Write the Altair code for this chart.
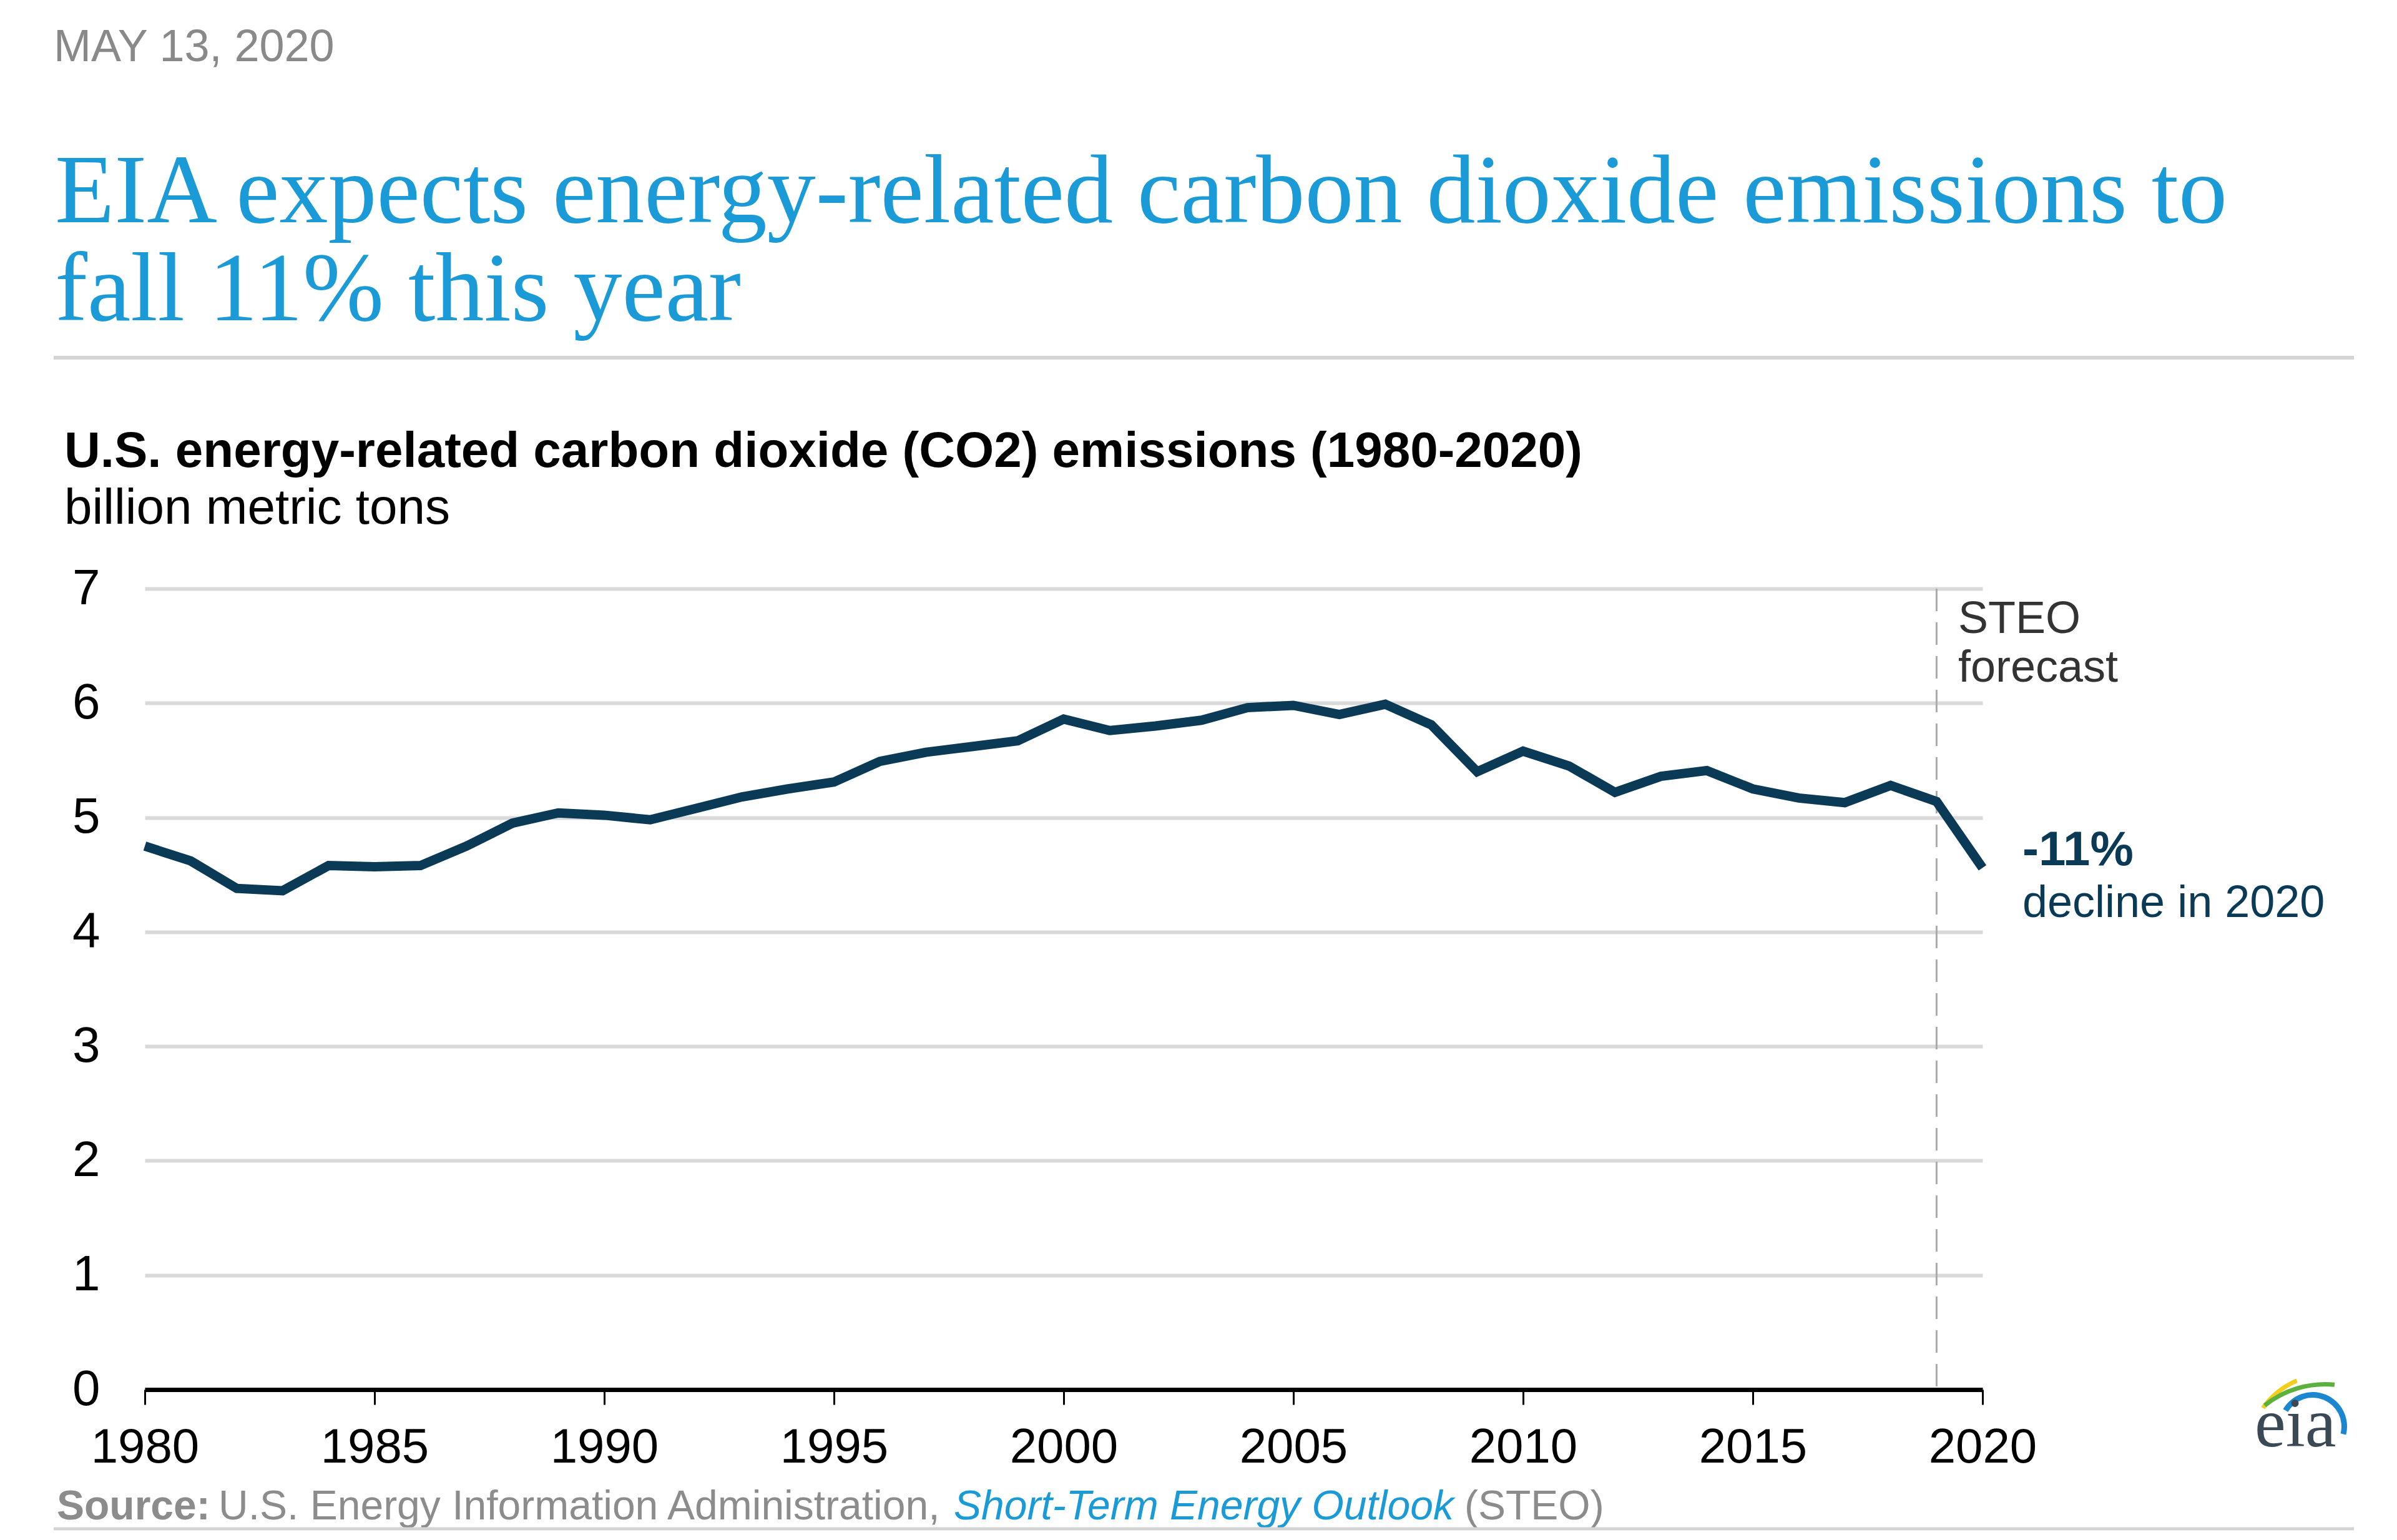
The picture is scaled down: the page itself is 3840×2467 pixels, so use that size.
import altair as alt
import pandas as pd

# ---- data ----
years = list(range(1980, 2021))
emissions = [4.75, 4.62, 4.38, 4.36, 4.58, 4.57, 4.58, 4.75, 4.95, 5.04,
             5.02, 4.98, 5.08, 5.18, 5.25, 5.31, 5.49, 5.57, 5.62, 5.67,
             5.86, 5.76, 5.80, 5.85, 5.96, 5.98, 5.90, 5.99, 5.81, 5.40,
             5.58, 5.45, 5.22, 5.36, 5.41, 5.25, 5.17, 5.13, 5.28, 5.14,
             4.56]
x_ticks = [1980, 1985, 1990, 1995, 2000, 2005, 2010, 2015, 2020]
y_ticks = [0, 1, 2, 3, 4, 5, 6, 7]
forecast_start = 2019

date_text = "MAY 13, 2020"
title_lines = ["EIA expects energy-related carbon dioxide emissions to", "fall 11% this year"]
chart_title = "U.S. energy-related carbon dioxide (CO2) emissions (1980-2020)"
units = "billion metric tons"
steo_lines = ["STEO", "forecast"]
pct_text = "-11%"
decline_text = "decline in 2020"
src_bold = "Source:"
src_regular = "U.S. Energy Information Administration,"
src_italic = "Short-Term Energy Outlook"
src_tail = "(STEO)"
logo_text = "eia"

df = pd.DataFrame({"year": years, "co2": emissions})
one = pd.DataFrame({"k": [0]})

W, H = 2944, 1283
SANS = "Liberation Sans"
SERIF = "Liberation Serif"
NAVY = "#0a3a55"


def txt(t, x, y, size, color="#000000", font=SANS, weight="normal", style="normal"):
    return alt.Chart(one).mark_text(
        align="left", baseline="alphabetic", font=font, fontSize=size,
        fontWeight=weight, fontStyle=style, color=color,
    ).encode(text=alt.value(t), x=alt.value(x), y=alt.value(y))


def hrule(y, x1, x2, color, width):
    return alt.Chart(one).mark_rule(color=color, strokeWidth=width).encode(
        x=alt.value(x1), x2=alt.value(x2), y=alt.value(y))


def arc(cx, cy, r1, r2, t1, t2, color):
    return alt.Chart(one).mark_arc(color=color).encode(
        x=alt.value(cx), y=alt.value(cy), radius=alt.value(r1), radius2=alt.value(r2),
        theta=alt.value(t1), theta2=alt.value(t2))


line = alt.Chart(df).mark_line(color=NAVY, strokeWidth=15, strokeJoin="miter").encode(
    x=alt.X("year:Q",
            scale=alt.Scale(domain=[1980, 2020], nice=False, zero=False),
            axis=alt.Axis(values=x_ticks, format="d", title=None, grid=False,
                          domainColor="#000000", domainWidth=7,
                          tickColor="#000000", tickWidth=3, tickSize=24,
                          labelFontSize=78, labelFont=SANS, labelColor="#000000",
                          labelPadding=30, labelFlush=False)),
    y=alt.Y("co2:Q",
            scale=alt.Scale(domain=[0, 7], nice=False, zero=True),
            axis=alt.Axis(values=y_ticks, title=None, grid=True,
                          gridColor="#d9d9d9", gridWidth=6, domain=False, ticks=False,
                          labelFontSize=80, labelFont=SANS, labelColor="#000000",
                          labelPadding=72)),
)

forecast_rule = alt.Chart(one).mark_rule(color="#aaaaaa", strokeWidth=3,
                                          strokeDash=[36, 18]).encode(
    x=alt.datum(forecast_start))

layers = [
    forecast_rule,
    line,
    # header
    txt(date_text, -146, -845, 72, "#898989"),
    txt(title_lines[0], -144, -587, 156, "#1a9ad6", SERIF),
    txt(title_lines[1], -144, -430, 156, "#1a9ad6", SERIF),
    hrule(-370, -146, 3539, "#d4d4d4", 6),
    txt(chart_title, -129, -195, 80, "#000000", SANS, "bold"),
    txt(units, -129, -104, 80, "#000000"),
    # annotations
    txt(steo_lines[0], 2905, 71, 72, "#333333"),
    txt(steo_lines[1], 2905, 149, 72, "#333333"),
    txt(pct_text, 3008, 443, 78, NAVY, SANS, "bold"),
    txt(decline_text, 3008, 526, 72, NAVY),
    # source
    txt(src_bold, -141, 1491, 66, "#8c8c8c", SANS, "bold"),
    txt(src_regular, 118, 1491, 66, "#8c8c8c"),
    txt(src_italic, 1296, 1491, 66, "#1a9ad6", SANS, "normal", "italic"),
    txt(src_tail, 2114, 1491, 66, "#8c8c8c"),
    hrule(1506, -146, 3539, "#d4d4d4", 5),
    # logo
    arc(3498, 1387, 132, 125, 5.33, 5.88, "#f2cf1d"),
    arc(3493, 1430, 159, 152, 5.61, 6.38, "#5cb03c"),
    arc(3473, 1342, 55, 46, 5.24, 8.10, "#1b87d0"),
    txt(logo_text, 3380, 1374, 112, "#3b4856", SERIF),
]

chart = alt.layer(*layers).properties(
    width=W, height=H,
    autosize=alt.AutoSizeParams(type="none"),
    padding={"left": 224, "top": 935, "right": 656, "bottom": 233},
    background="#ffffff",
).configure_view(stroke=None)

chart.save("out.html", embed_options={"renderer": "svg", "actions": False})
